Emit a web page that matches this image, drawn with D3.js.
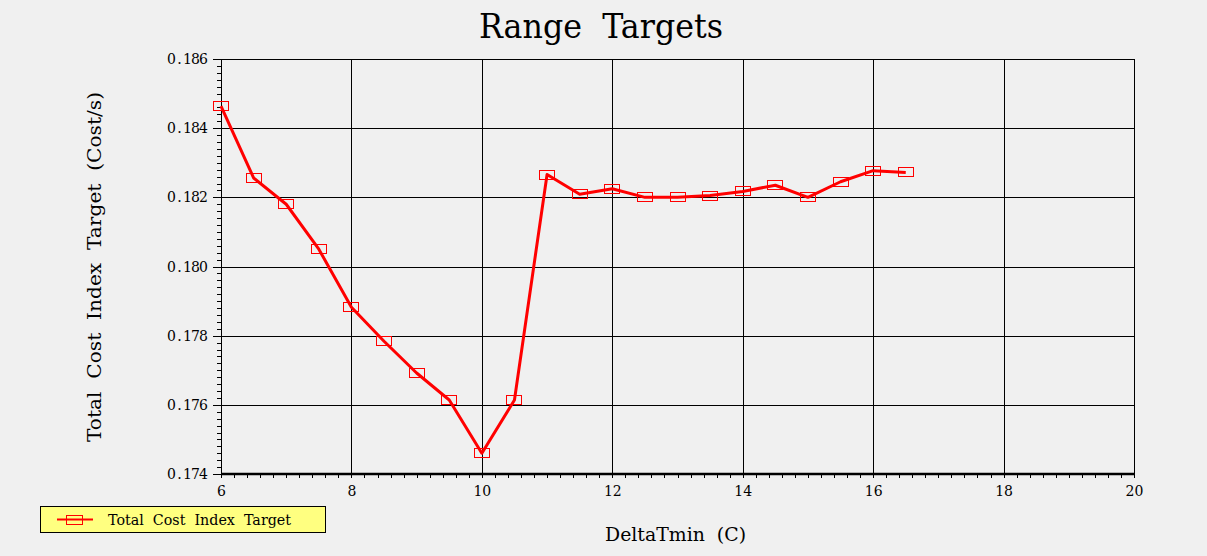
<!DOCTYPE html>
<html><head><meta charset="utf-8">
<script src="https://cdn.jsdelivr.net/npm/d3@7"></script>
<style>body{margin:0;background:#f0f0f0;overflow:hidden}svg{display:block}</style>
</head><body>
<svg id="c" width="1207" height="556"></svg>
<script>
const xValues = [6,6.5,7,7.5,8,8.5,9,9.5,10,10.5,11,11.5,12,12.5,13,13.5,14,14.5,15,15.5,16,16.5];
const yValues = [0.18464,0.18256,0.18180,0.18050,0.17882,0.17784,0.17692,0.17614,0.17460,0.17614,0.18266,0.18209,0.18225,0.18200,0.18200,0.18205,0.18217,0.18235,0.18200,0.18245,0.18277,0.18272];
const xTicks = [6,8,10,12,14,16,18,20];
const yTicks = [0.174,0.176,0.178,0.180,0.182,0.184,0.186];
const title = "Range Targets";
const xLabel = "DeltaTmin (C)";
const yLabel = "Total Cost Index Target (Cost/s)";
const seriesName = "Total Cost Index Target";

const svg = d3.select("#c");
const serif = "'DejaVu Serif', 'Liberation Serif', serif";
const L=221, R=1134, T=59, B=474;
const x = d3.scaleLinear().domain([6,20]).range([L,R]);
const y = d3.scaleLinear().domain([0.174,0.186]).range([B,T]);

// fixed-pitch text helper (emulates the monospaced original font)
function monoText(parent, str, cx, baseY, pitch, size){
  const t = parent.append("text").attr("font-family",serif).attr("font-size",size)
    .attr("fill","#000").attr("text-anchor","middle");
  const x0 = cx - pitch*str.length/2;
  t.selectAll("tspan").data(str.split("")).join("tspan")
    .attr("x",(c,i)=>x0+pitch*(i+0.5)).attr("y",baseY).text(c=>c);
  return t;
}
// wide-space fitted text
function fitText(parent, str, size, len, anchor){
  return parent.append("text").attr("font-family",serif).attr("font-size",size)
    .attr("fill","#000").attr("text-anchor",anchor||"middle")
    .attr("textLength",len).attr("lengthAdjust","spacingAndGlyphs")
    .text(str.replace(/ /g,"\u00a0\u00a0"));
}

svg.append("rect").attr("width",1207).attr("height",556).attr("fill","#f0f0f0");

// grid
const g = svg.append("g");
g.selectAll(".vg").data(xTicks.slice(1)).join("line")
 .attr("x1",d=>Math.round(x(d))+0.5).attr("x2",d=>Math.round(x(d))+0.5)
 .attr("y1",T).attr("y2",B).attr("stroke","#000").attr("stroke-width",1);
g.selectAll(".hg").data(yTicks.slice(1)).join("line")
 .attr("y1",d=>Math.round(y(d))+0.5).attr("y2",d=>Math.round(y(d))+0.5)
 .attr("x1",L).attr("x2",R).attr("stroke","#000").attr("stroke-width",1);

// minor ticks
const xMinor = d3.range(6,20.001,0.2);
const yMinor = d3.range(0,61).map(i=>0.174+i*0.0002);
const gx = svg.append("g").attr("transform",`translate(0,${B})`).call(d3.axisBottom(x).tickValues(xMinor).tickSize(4).tickFormat(""));
const gy = svg.append("g").attr("transform",`translate(${L+0.5},0)`).call(d3.axisLeft(y).tickValues(yMinor).tickSize(5).tickFormat(""));
[gx,gy].forEach(a=>{a.select(".domain").remove();a.selectAll("line").attr("stroke","#000").attr("shape-rendering","crispEdges");});
// major ticks
const gyM = svg.append("g").attr("transform",`translate(${L+0.5},0)`)
 .call(d3.axisLeft(y).tickValues(yTicks).tickSize(9).tickFormat(""));
gyM.select(".domain").remove();
gyM.selectAll("line").attr("stroke","#000").attr("shape-rendering","crispEdges");
const fmtY = d3.format(".3f");
yTicks.forEach(v=>monoText(svg, fmtY(v), 187.5, y(v)+5, 8, 14));
const gxM = svg.append("g").attr("transform",`translate(0,${B})`)
 .call(d3.axisBottom(x).tickValues(xTicks).tickSize(4).tickPadding(8).tickFormat(d3.format("d")));
gxM.select(".domain").remove();
gxM.selectAll("line").attr("stroke","#000").attr("shape-rendering","crispEdges");
gxM.selectAll("text").attr("font-family",serif).attr("font-size",14).attr("fill","#000");

// axis lines / border
svg.append("line").attr("x1",L+0.5).attr("x2",L+0.5).attr("y1",T).attr("y2",B).attr("stroke","#000");
svg.append("line").attr("x1",L).attr("x2",R+1).attr("y1",B).attr("y2",B).attr("stroke","#000").attr("stroke-width",2.5);

// data
const pts = xValues.map((v,i)=>[v,yValues[i]]);
svg.append("path").datum(pts)
 .attr("d",d3.line().x(d=>x(d[0])).y(d=>y(d[1])))
 .attr("fill","none").attr("stroke","#ff0000").attr("stroke-width",3).attr("stroke-linejoin","round");
svg.selectAll(".mk").data(pts).join("rect")
 .attr("x",d=>Math.round(x(d[0]))-7.5).attr("y",d=>Math.round(y(d[1]))-4.5)
 .attr("width",15).attr("height",9).attr("fill","none").attr("stroke","#ff0000").attr("stroke-width",1);

// title & labels
fitText(svg, title, 33, 244).attr("x",601).attr("y",38);
fitText(svg, xLabel, 19, 141).attr("x",675.5).attr("y",541);
fitText(svg, yLabel, 19, 350).attr("transform","translate(101,267) rotate(-90)");

// legend
const lg = svg.append("g");
lg.append("rect").attr("x",40.5).attr("y",506.5).attr("width",285).attr("height",26)
 .attr("fill","#ffff80").attr("stroke","#000").attr("stroke-width",1);
lg.append("line").attr("x1",57).attr("x2",93).attr("y1",519.5).attr("y2",519.5).attr("stroke","#ff0000").attr("stroke-width",2);
lg.append("rect").attr("x",66.5).attr("y",515.5).attr("width",16).attr("height",9).attr("fill","none").attr("stroke","#ff0000");
fitText(lg, seriesName, 14, 183, "start").attr("x",108).attr("y",524.5);
</script>
</body></html>
